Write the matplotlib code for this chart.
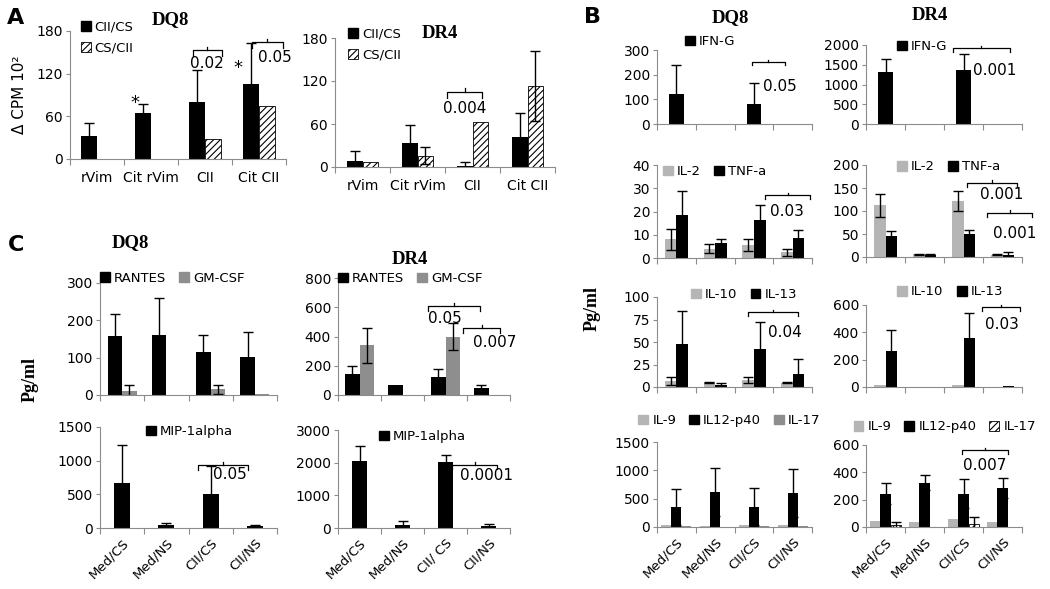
import numpy as np
import matplotlib
matplotlib.use("Agg")
import matplotlib.pyplot as plt
from matplotlib.patches import Patch

plt.rcParams["font.family"] = ["DejaVu Sans"]
plt.rcParams["hatch.linewidth"] = 0.8

# ── Data ─────────────────────────────────────────────────────────────────────
a_cats  = ["rVim", "Cit rVim", "CII", "Cit CII"]
bc_cats = ["Med/CS", "Med/NS", "CII/CS", "CII/NS"]
c_dr4_cats = ["Med/CS", "Med/NS", "CII/ CS", "CII/NS"]

# A: proliferation (delta CPM x10^2)
a_dq8_cii_cs     = [33, 65, 80, 105]
a_dq8_cii_cs_err = [17, 13, 45, 58]
a_dq8_cs_cii     = [0, 0, 28, 75]
a_dq8_cs_cii_err = [0, 0, 0, 0]
a_dr4_cii_cs     = [9, 33, 2, 42]
a_dr4_cii_cs_err = [13, 25, 5, 33]
a_dr4_cs_cii     = [7, 16, 63, 113]
a_dr4_cs_cii_err = [0, 12, 0, 49]

# B: cytokines DQ8
b_dq8_ifng     = [120, 0, 80, 0]
b_dq8_ifng_err = [120, 0, 85, 0]
b_dq8_il2      = [8, 4, 5.5, 2.5]
b_dq8_il2_err  = [4.5, 2, 2.5, 1.5]
b_dq8_tnfa     = [18.5, 6.5, 16.5, 8.5]
b_dq8_tnfa_err = [10.5, 1.5, 6.5, 3.5]
b_dq8_il10     = [7, 5, 8, 5]
b_dq8_il10_err = [4.5, 1, 3, 1]
b_dq8_il13     = [48, 2, 42, 15]
b_dq8_il13_err = [37, 2, 30, 16]
b_dq8_il9      = [40, 15, 40, 40]
b_dq8_il12     = [350, 620, 360, 600]
b_dq8_il12_err = [320, 420, 330, 420]
b_dq8_il17     = [10, 8, 10, 10]

# B: cytokines DR4
b_dr4_ifng     = [1320, 0, 1370, 0]
b_dr4_ifng_err = [330, 0, 390, 0]
b_dr4_il2      = [113, 6, 122, 5]
b_dr4_il2_err  = [25, 1, 22, 1]
b_dr4_tnfa     = [45, 5, 50, 5]
b_dr4_tnfa_err = [12, 1, 8, 5]
b_dr4_il10     = [15, 0, 15, 0]
b_dr4_il13     = [260, 0, 355, 8]
b_dr4_il13_err = [160, 0, 185, 0]
b_dr4_il9      = [45, 35, 55, 35]
b_dr4_il12     = [245, 325, 245, 285]
b_dr4_il12_err = [75, 55, 105, 75]
b_dr4_il17     = [15, 0, 20, 0]
b_dr4_il17_err = [25, 0, 50, 0]

# C: chemokines
c_dq8_rantes     = [158, 162, 115, 103]
c_dq8_rantes_err = [60, 98, 45, 65]
c_dq8_gmcsf      = [12, 0, 15, 2]
c_dq8_gmcsf_err  = [14, 0, 12, 0]
c_dq8_mip        = [665, 40, 505, 35]
c_dq8_mip_err    = [575, 35, 415, 10]
c_dr4_rantes     = [145, 65, 120, 45]
c_dr4_rantes_err = [50, 0, 55, 20]
c_dr4_gmcsf      = [340, 0, 400, 0]
c_dr4_gmcsf_err  = [120, 0, 95, 0]
c_dr4_mip        = [2050, 90, 2010, 50]
c_dr4_mip_err    = [470, 110, 240, 70]

# ── Styles ───────────────────────────────────────────────────────────────────
BLACK = dict(color="black")
LIGHT = dict(color="#b5b5b5")
MID   = dict(color="#8e8e8e")
HATCH = dict(facecolor="white", edgecolor="black", hatch="/////", linewidth=0.6)
AXC = "#8c8c8c"

fig = plt.figure(figsize=(10.5, 5.89), dpi=100)


def px_axes(x0, x1, y0, y1):
    return fig.add_axes([x0 / 1050, 1 - y1 / 589, (x1 - x0) / 1050, (y1 - y0) / 589])


def setup(ax, ymax, yticks, labels=None, rot=0):
    ax.set_xlim(-0.5, 3.5)
    ax.set_ylim(0, ymax)
    for s in ["top", "right"]:
        ax.spines[s].set_visible(False)
    for s in ["left", "bottom"]:
        ax.spines[s].set_color(AXC)
    ax.set_xticks([-0.5, 0.5, 1.5, 2.5, 3.5])
    ax.set_xticklabels([])
    ax.tick_params(axis="x", which="major", length=4, color=AXC)
    ax.set_xticks(range(4), minor=True)
    pad = 6
    if labels is not None:
        if rot:
            ax.set_xticklabels(labels, minor=True, rotation=rot, ha="right",
                               rotation_mode="anchor", fontsize=9.5)
        else:
            ax.set_xticklabels(labels, minor=True, fontsize=10)
            pad = 9
    ax.tick_params(axis="x", which="minor", length=0, pad=pad)
    ax.set_yticks(yticks)
    ax.tick_params(axis="y", length=3, color=AXC, labelsize=10, pad=2)


def bars(ax, series, width):
    n = len(series)
    x = np.arange(4)
    for i, (vals, errs, style) in enumerate(series):
        pos = x + (i - (n - 1) / 2) * width
        ax.bar(pos, vals, width, **style)
        if errs is not None:
            e = np.array(errs, dtype=float)
            m = e > 0
            ax.errorbar(pos[m], np.array(vals)[m], yerr=e[m], fmt="none",
                        ecolor="black", elinewidth=1, capsize=3.5, capthick=1)


def legend(ax, names, styles, anchor, ncol=None):
    handles = [Patch(**s) for s in styles]
    ax.legend(handles, names, loc="upper left", bbox_to_anchor=anchor,
              ncol=ncol or len(names), frameon=False, fontsize=9.5,
              handlelength=0.75, handleheight=0.75, handletextpad=0.3,
              columnspacing=1.0, borderpad=0, borderaxespad=0, labelspacing=0.6)


def bracket(ax, x1, x2, y, text, tx, ty, ha="left", size=11):
    d = ax.get_ylim()[1] * 0.045
    ax.plot([x1, x1, x2, x2], [y - d, y, y, y - d], color="black", lw=0.9, clip_on=False)
    xm = (x1 + x2) / 2
    ax.plot([xm, xm], [y, y + d * 0.6], color="black", lw=0.9, clip_on=False)
    ax.text(tx, ty, text, ha=ha, va="center", fontsize=size, clip_on=False)


# ── Panel A ──────────────────────────────────────────────────────────────────
ax = px_axes(70, 286, 31, 159)
bars(ax, [(a_dq8_cii_cs, a_dq8_cii_cs_err, BLACK), (a_dq8_cs_cii, a_dq8_cs_cii_err, HATCH)], 0.29)
setup(ax, 180, [0, 60, 120, 180], a_cats)
legend(ax, ["CII/CS", "CS/CII"], [BLACK, HATCH], (0.05, 1.08), ncol=1)
bracket(ax, 1.78, 2.31, 153, "0.02", 2.04, 134, ha="center")
bracket(ax, 2.87, 3.44, 164, "0.05", 2.98, 143)
ax.text(0.70, 79, "*", ha="center", va="center", fontsize=13)
ax.text(2.61, 128, "*", ha="center", va="center", fontsize=13)

ax = px_axes(335, 555, 38, 167)
bars(ax, [(a_dr4_cii_cs, a_dr4_cii_cs_err, BLACK), (a_dr4_cs_cii, a_dr4_cs_cii_err, HATCH)], 0.29)
setup(ax, 180, [0, 60, 120, 180], a_cats)
legend(ax, ["CII/CS", "CS/CII"], [BLACK, HATCH], (0.06, 1.08), ncol=1)
bracket(ax, 1.54, 2.17, 105, "0.004", 1.86, 82, ha="center")

# ── Panel B, DQ8 column ──────────────────────────────────────────────────────
ax = px_axes(657, 812, 50, 124)
bars(ax, [(b_dq8_ifng, b_dq8_ifng_err, BLACK)], 0.38)
setup(ax, 300, [0, 100, 200, 300])
legend(ax, ["IFN-G"], [BLACK], (0.18, 1.2))
bracket(ax, 1.95, 2.8, 251, "0.05", 2.24, 154)

ax = px_axes(657, 812, 165, 258)
bars(ax, [(b_dq8_il2, b_dq8_il2_err, LIGHT), (b_dq8_tnfa, b_dq8_tnfa_err, BLACK)], 0.3)
setup(ax, 40, [0, 10, 20, 30, 40])
legend(ax, ["IL-2", "TNF-a"], [LIGHT, BLACK], (0.04, 1.0))
bracket(ax, 2.29, 3.45, 27, "0.03", 2.42, 20)

ax = px_axes(657, 812, 297, 387)
bars(ax, [(b_dq8_il10, b_dq8_il10_err, LIGHT), (b_dq8_il13, b_dq8_il13_err, BLACK)], 0.3)
setup(ax, 100, [0, 25, 50, 75, 100])
legend(ax, ["IL-10", "IL-13"], [LIGHT, BLACK], (0.22, 1.1))
bracket(ax, 1.85, 3.14, 83, "0.04", 2.36, 61)

ax = px_axes(657, 812, 442, 527)
bars(ax, [(b_dq8_il9, None, LIGHT), (b_dq8_il12, b_dq8_il12_err, BLACK), (b_dq8_il17, None, MID)], 0.26)
setup(ax, 1500, [0, 500, 1000, 1500], bc_cats, rot=45)
legend(ax, ["IL-9", "IL12-p40", "IL-17"], [LIGHT, BLACK, MID], (-0.12, 1.33))

# ── Panel B, DR4 column ──────────────────────────────────────────────────────
ax = px_axes(866, 1022, 45, 124)
bars(ax, [(b_dr4_ifng, b_dr4_ifng_err, BLACK)], 0.38)
setup(ax, 2000, [0, 500, 1000, 1500, 2000])
legend(ax, ["IFN-G"], [BLACK], (0.2, 1.06))
bracket(ax, 1.73, 3.19, 1924, "0.001", 2.24, 1367)

ax = px_axes(866, 1022, 165, 257)
bars(ax, [(b_dr4_il2, b_dr4_il2_err, LIGHT), (b_dr4_tnfa, b_dr4_tnfa_err, BLACK)], 0.3)
setup(ax, 200, [0, 50, 100, 150, 200])
legend(ax, ["IL-2", "TNF-a"], [LIGHT, BLACK], (0.2, 1.05))
bracket(ax, 2.09, 3.37, 161, "0.001", 2.42, 135)
bracket(ax, 2.6, 3.76, 96, "0.001", 2.76, 52)

ax = px_axes(866, 1022, 305, 387)
bars(ax, [(b_dr4_il10, None, LIGHT), (b_dr4_il13, b_dr4_il13_err, BLACK)], 0.3)
setup(ax, 600, [0, 200, 400, 600])
legend(ax, ["IL-10", "IL-13"], [LIGHT, BLACK], (0.2, 1.24))
bracket(ax, 2.47, 3.45, 585, "0.03", 2.55, 454)

ax = px_axes(866, 1022, 445, 527)
bars(ax, [(b_dr4_il9, None, LIGHT), (b_dr4_il12, b_dr4_il12_err, BLACK), (b_dr4_il17, b_dr4_il17_err, HATCH)], 0.26)
setup(ax, 600, [0, 200, 400, 600], bc_cats, rot=45)
legend(ax, ["IL-9", "IL12-p40", "IL-17"], [LIGHT, BLACK, HATCH], (-0.08, 1.3))
bracket(ax, 1.96, 3.14, 563, "0.007", 2.55, 453, ha="center")

# ── Panel C ──────────────────────────────────────────────────────────────────
ax = px_axes(100, 277, 283, 395)
bars(ax, [(c_dq8_rantes, c_dq8_rantes_err, BLACK), (c_dq8_gmcsf, c_dq8_gmcsf_err, MID)], 0.33)
setup(ax, 300, [0, 100, 200, 300])
legend(ax, ["RANTES", "GM-CSF"], [BLACK, MID], (0.0, 1.1))

ax = px_axes(100, 277, 427, 528)
bars(ax, [(c_dq8_mip, c_dq8_mip_err, BLACK)], 0.36)
setup(ax, 1500, [0, 500, 1000, 1500], bc_cats, rot=45)
legend(ax, ["MIP-1alpha"], [BLACK], (0.26, 1.02))
bracket(ax, 1.71, 2.84, 935, "0.05", 2.05, 800)

ax = px_axes(338, 510, 278, 395)
bars(ax, [(c_dr4_rantes, c_dr4_rantes_err, BLACK), (c_dr4_gmcsf, c_dr4_gmcsf_err, MID)], 0.33)
setup(ax, 800, [0, 200, 400, 600, 800])
legend(ax, ["RANTES", "GM-CSF"], [BLACK, MID], (0.0, 1.05))
bracket(ax, 1.59, 2.8, 609, "0.05", 1.99, 526, ha="center")
bracket(ax, 2.41, 3.27, 458, "0.007", 2.64, 356)

ax = px_axes(338, 510, 430, 528)
bars(ax, [(c_dr4_mip, c_dr4_mip_err, BLACK)], 0.36)
setup(ax, 3000, [0, 1000, 2000, 3000], c_dr4_cats, rot=45)
legend(ax, ["MIP-1alpha"], [BLACK], (0.24, 1.0))
bracket(ax, 2.15, 3.2, 1929, "0.0001", 2.34, 1622)

# ── Titles, panel letters, axis labels ───────────────────────────────────────
serif = dict(family="Liberation Serif", fontweight="bold", fontsize=13.5, ha="center", va="center")
for x, y in [(170, 20), (440, 33), (730, 18), (930, 15), (130, 243), (410, 260)]:
    fig.text(x / 1050, 1 - y / 589, "DQ8" if x in (170, 730, 130) else "DR4", **serif)

for x, y, t in [(16, 18, "A"), (592, 17, "B"), (16, 245, "C")]:
    fig.text(x / 1050, 1 - y / 589, t, fontsize=16, fontweight="bold", ha="center", va="center")

fig.text(20 / 1050, 1 - 95 / 589, "Δ CPM 10²", rotation=90, fontsize=11, ha="center", va="center")
for x, y in [(592, 308), (30, 380)]:
    fig.text(x / 1050, 1 - y / 589, "Pg/ml", rotation=90, family="Liberation Serif",
             fontweight="bold", fontsize=13, ha="center", va="center")

fig.savefig("out.png", dpi=100)
